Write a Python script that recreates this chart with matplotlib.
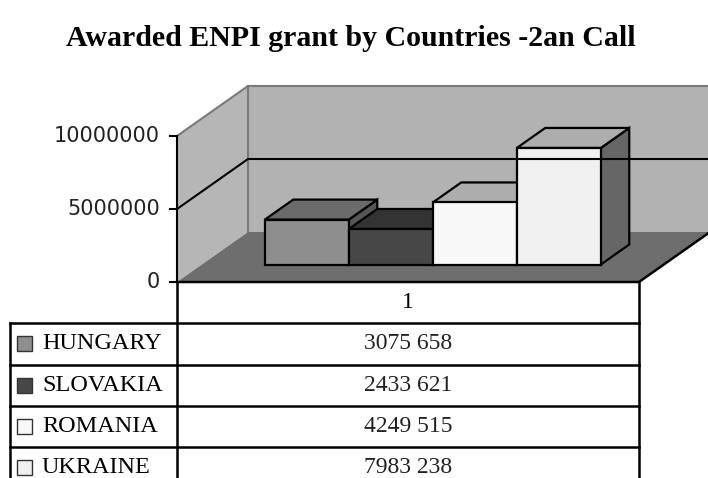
import matplotlib.pyplot as plt
from matplotlib.patches import Polygon, Rectangle

countries = ['HUNGARY', 'SLOVAKIA', 'ROMANIA', 'UKRAINE']
grants = [3075658, 2433621, 4249515, 7983238]
category = '1'
yticks = [0, 5000000, 10000000]
title = 'Awarded ENPI grant by Countries -2an Call'

# Face colours of the 3d columns (front, top, side)
front_cols = ['#8e8e8e', '#474747', '#f8f8f8', '#f0f0f0']
top_cols = ['#6b6b6b', '#333333', '#adadad', '#adadad']
side_cols = ['#565656', '#2b2b2b', '#777777', '#666666']

# Layout (pixels of the 708x478 picture)
W, H = 708, 478
X0, Y0 = 177, 282          # front-left corner of the floor
PX_X = 84.0                # pixels per column slot
PX_V = 14.6 / 1e6          # pixels per unit of value
DX = 71 / PX_X             # depth shift in x units
DY = 50 / PX_V             # depth shift in value units
FLOOR = 5.5
VMAX = 10000000
D0, D1 = 0.35, 0.75        # depth of the columns


def proj(x, d, v):
    # oblique projection of (x, depth, value) into the 2d axes
    return (x + d * DX, v + d * DY)


fig = plt.figure(figsize=(W / 100, H / 100), dpi=100)
ax = fig.add_axes([0, 0, 1, 1])
ax.set_xlim(-X0 / PX_X, (W - X0) / PX_X)
ax.set_ylim(-(H - Y0) / PX_V, Y0 / PX_V)
ax.axis('off')

# walls and floor
ax.add_patch(Polygon([proj(0, 1, 0), proj(FLOOR, 1, 0), proj(FLOOR, 1, VMAX), proj(0, 1, VMAX)],
                     fc='#b2b2b2', ec='none'))
ax.add_patch(Polygon([proj(0, 0, 0), proj(0, 1, 0), proj(0, 1, VMAX), proj(0, 0, VMAX)],
                     fc='#b6b6b6', ec='none'))
ax.add_patch(Polygon([proj(0, 0, 0), proj(FLOOR, 0, 0), proj(FLOOR, 1, 0), proj(0, 1, 0)],
                     fc='#6e6e6e', ec='none'))
edge = [proj(0, 0, VMAX), proj(0, 1, VMAX), proj(FLOOR, 1, VMAX)]
ax.plot([p[0] for p in edge], [p[1] for p in edge], color='#7a7a7a', lw=1.5)
edge = [proj(0, 1, 0), proj(0, 1, VMAX)]
ax.plot([p[0] for p in edge], [p[1] for p in edge], color='#7a7a7a', lw=1.5)

# gridline at the middle tick
for t in yticks[1:-1]:
    g = [proj(0, 0, t), proj(0, 1, t), proj(FLOOR, 1, t)]
    ax.plot([p[0] for p in g], [p[1] for p in g], color='black', lw=1.5)

# floor edges
g = [proj(0, 0, 0), proj(FLOOR, 0, 0), proj(FLOOR, 1, 0)]
ax.plot([p[0] for p in g], [p[1] for p in g], color='black', lw=1.8)

# value axis
ax.plot([0, 0], [0, VMAX], color='black', lw=1.5)
for t in yticks:
    ax.plot([-7 / PX_X, 0], [t, t], color='black', lw=1.5)
    ax.text(-17 / PX_X, t, str(t), ha='right', va='center', fontsize=15,
            family='DejaVu Sans', color='#222222')

# columns, drawn left to right
for i, v in enumerate(grants):
    x0 = 0.75 + i
    x1 = x0 + 1
    side = [proj(x1, D0, 0), proj(x1, D1, 0), proj(x1, D1, v), proj(x1, D0, v)]
    top = [proj(x0, D0, v), proj(x1, D0, v), proj(x1, D1, v), proj(x0, D1, v)]
    front = [proj(x0, D0, 0), proj(x1, D0, 0), proj(x1, D0, v), proj(x0, D0, v)]
    for poly, col in [(side, side_cols[i]), (top, top_cols[i]), (front, front_cols[i])]:
        ax.add_patch(Polygon(poly, fc=col, ec='black', lw=1.6, joinstyle='miter'))

# data table underneath
tab = fig.add_axes([0, 0, 1, 1])
tab.set_xlim(0, W)
tab.set_ylim(H, 0)
tab.axis('off')
tab.patch.set_alpha(0)

row_h = 41.3
rows_y = [Y0 + row_h * k for k in range(len(countries) + 2)]
left, mid, right = 10, X0, 639
lw = 1.8
tab.plot([mid, mid], [Y0, H + 20], color='black', lw=lw)
tab.plot([right, right], [Y0, H + 20], color='black', lw=lw)
tab.plot([left, left], [rows_y[1], H + 20], color='black', lw=lw)
for y in rows_y[1:]:
    tab.plot([left, right], [y, y], color='black', lw=lw)
tab.text((mid + right) / 2, (rows_y[0] + rows_y[1]) / 2, category, ha='center', va='center',
         fontsize=17, family='Liberation Serif')

for i, (name, v) in enumerate(zip(countries, grants)):
    yc = (rows_y[i + 1] + rows_y[i + 2]) / 2
    tab.add_patch(Rectangle((17, yc - 7.5), 15, 15, fc=front_cols[i], ec='#333333', lw=1))
    tab.text(42, yc, name, ha='left', va='center', fontsize=17.5, family='Liberation Serif')
    tab.text((mid + right) / 2, yc, f'{v // 1000} {v % 1000:03d}', ha='center', va='center',
             fontsize=17, family='Liberation Serif', color='#222222')

fig.text(351 / W, 1 - 38 / H, title, ha='center', va='center', fontsize=21.5,
         fontweight='bold', family='Liberation Serif')

fig.savefig('out.png', dpi=100)
